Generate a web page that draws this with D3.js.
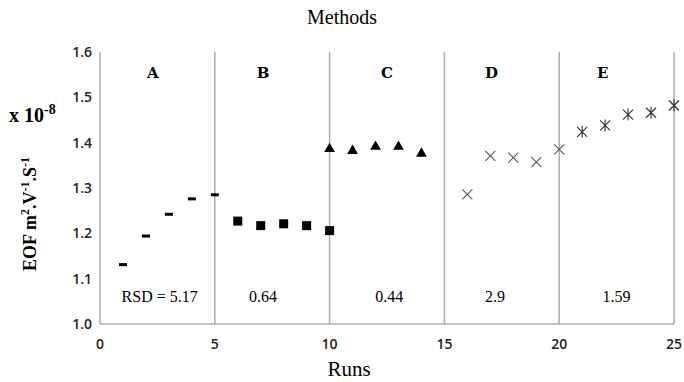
<!DOCTYPE html>
<html>
<head>
<meta charset="utf-8">
<script src="https://cdn.jsdelivr.net/npm/d3@7"></script>
<style>
  body { margin: 0; background: #fff; }
</style>
</head>
<body>
<div id="chart"></div>
<script>
// data (EOF x 10^-8 per run)
var runsA = [1, 2, 3, 4, 5];
var eofA = [1.131, 1.194, 1.242, 1.276, 1.285];
var runsB = [6, 7, 8, 9, 10];
var eofB = [1.227, 1.217, 1.221, 1.217, 1.206];
var runsC = [10, 11, 12, 13, 14];
var eofC = [1.386, 1.382, 1.391, 1.391, 1.376];
var runsD = [16, 17, 18, 19, 20];
var eofD = [1.286, 1.371, 1.367, 1.357, 1.385];
var runsE = [21, 22, 23, 24, 25];
var eofE = [1.424, 1.438, 1.462, 1.466, 1.482];

var methodNames = ["A", "B", "C", "D", "E"];
var methodPos = [2.3, 7.1, 12.5, 17.05, 21.9];
var rsdLabels = ["RSD = 5.17", "0.64", "0.44", "2.9", "1.59"];
var rsdPos = [2.6, 7.1, 12.6, 17.2, 22.5];
var dividers = [0, 5, 10, 15, 20, 25];
var xTicks = [0, 5, 10, 15, 20, 25];
var yTicks = [1.0, 1.1, 1.2, 1.3, 1.4, 1.5, 1.6];

var svg = d3.select("#chart").append("svg").attr("width", 684).attr("height", 382);

var x = d3.scaleLinear().domain([0, 25]).range([100, 674]);
var y = d3.scaleLinear().domain([1.0, 1.6]).range([324, 52]);

// dividers
svg.selectAll(".div").data(dividers).enter().append("line")
  .attr("x1", function(d){ return x(d); }).attr("x2", function(d){ return x(d); })
  .attr("y1", y(1.6)).attr("y2", y(1.0))
  .attr("stroke", "#ababab").attr("stroke-width", 1.5);
svg.append("line").attr("x1", x(0)).attr("x2", x(25)).attr("y1", y(1.0)).attr("y2", y(1.0))
  .attr("stroke", "#ababab").attr("stroke-width", 1.5);

// tick labels
svg.selectAll(".yt").data(yTicks).enter().append("text")
  .attr("x", 92).attr("y", function(d){ return y(d) + 5; })
  .attr("text-anchor", "end").attr("font-family", "Open Sans").attr("font-weight", 600)
  .attr("font-size", 14).attr("fill", "#222").text(function(d){ return d.toFixed(1); });
svg.selectAll(".xt").data(xTicks).enter().append("text")
  .attr("x", function(d){ return x(d); }).attr("y", 349)
  .attr("text-anchor", "middle").attr("font-family", "Open Sans").attr("font-weight", 600)
  .attr("font-size", 14).attr("fill", "#222").text(function(d){ return d; });

// titles
svg.append("text").attr("x", 342).attr("y", 24).attr("text-anchor", "middle")
  .attr("font-family", "Liberation Serif").attr("font-size", 20).text("Methods");
svg.append("text").attr("x", 349).attr("y", 376).attr("text-anchor", "middle")
  .attr("font-family", "Liberation Serif").attr("font-size", 21).text("Runs");

var yl = svg.append("text").attr("transform", "translate(36,214) rotate(-90)")
  .attr("text-anchor", "middle").attr("font-family", "Liberation Serif")
  .attr("font-weight", "bold").attr("font-size", 18);
yl.append("tspan").text("EOF m");
yl.append("tspan").attr("dy", -7).attr("font-size", 12).text("2");
yl.append("tspan").attr("dy", 7).text(".V");
yl.append("tspan").attr("dy", -7).attr("font-size", 12).text("-1");
yl.append("tspan").attr("dy", 7).text(".S");
yl.append("tspan").attr("dy", -7).attr("font-size", 12).text("-1");

var xl = svg.append("text").attr("x", 9).attr("y", 122)
  .attr("font-family", "Liberation Serif").attr("font-weight", "bold").attr("font-size", 20);
xl.append("tspan").text("x 10");
xl.append("tspan").attr("dy", -8).attr("font-size", 14).text("-8");

// method labels
svg.selectAll(".ml").data(methodNames).enter().append("text")
  .attr("x", function(d, i){ return x(methodPos[i]); }).attr("y", 78)
  .attr("text-anchor", "middle").attr("font-family", "DejaVu Serif").attr("font-weight", "bold")
  .attr("font-size", 15).text(function(d){ return d; });

// RSD labels
svg.selectAll(".rsd").data(rsdLabels).enter().append("text")
  .attr("x", function(d, i){ return x(rsdPos[i]); }).attr("y", 302)
  .attr("text-anchor", "middle").attr("font-family", "Liberation Serif")
  .attr("font-size", 16).text(function(d){ return d; });

function pts(rs, vs){ return rs.map(function(r, i){ return [r, vs[i]]; }); }

// A: dashes
svg.selectAll(".a").data(pts(runsA, eofA)).enter().append("rect")
  .attr("x", function(d){ return x(d[0]) - 4; }).attr("y", function(d){ return y(d[1]) - 1.5; })
  .attr("width", 8).attr("height", 3).attr("fill", "#000");
// B: squares
svg.selectAll(".b").data(pts(runsB, eofB)).enter().append("rect")
  .attr("x", function(d){ return x(d[0]) - 4.5; }).attr("y", function(d){ return y(d[1]) - 4.5; })
  .attr("width", 9).attr("height", 9).attr("fill", "#000");
// C: triangles
svg.selectAll(".c").data(pts(runsC, eofC)).enter().append("path")
  .attr("transform", function(d){ return "translate(" + x(d[0]) + "," + y(d[1]) + ")"; })
  .attr("d", d3.symbol().type(d3.symbolTriangle).size(50)).attr("fill", "#000");
// D: crosses
svg.selectAll(".d").data(pts(runsD, eofD)).enter().append("path")
  .attr("transform", function(d){ return "translate(" + x(d[0]) + "," + y(d[1]) + ")"; })
  .attr("d", "M-5,-5L5,5M-5,5L5,-5").attr("stroke", "#555").attr("stroke-width", 1.1).attr("fill", "none");
// E: asterisks
svg.selectAll(".e").data(pts(runsE, eofE)).enter().append("path")
  .attr("transform", function(d){ return "translate(" + x(d[0]) + "," + y(d[1]) + ")"; })
  .attr("d", "M-5,-5L5,5M-5,5L5,-5M0,-6L0,6").attr("stroke", "#333").attr("stroke-width", 1.1).attr("fill", "none");
</script>
</body>
</html>
